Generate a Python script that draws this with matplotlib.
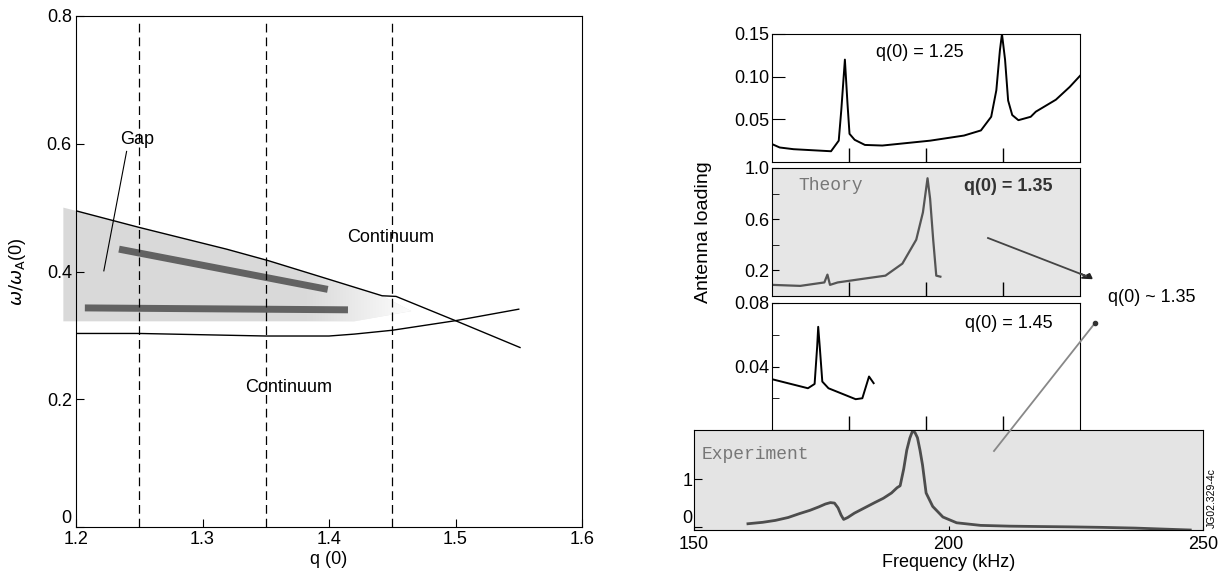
import numpy as np
import matplotlib
matplotlib.use("Agg")
import matplotlib.pyplot as plt
from matplotlib.patches import Polygon
from matplotlib.lines import Line2D

plt.rcParams['font.family'] = ['Liberation Sans', 'DejaVu Sans']
plt.rcParams['mathtext.fontset'] = 'dejavusans'

# ---------------- data: left panel (continuum / gap) ----------------
upper_q = [1.20, 1.25, 1.319, 1.352, 1.393, 1.442, 1.453, 1.50, 1.551]
upper_w = [0.495, 0.469, 0.435, 0.417, 0.392, 0.362, 0.361, 0.323, 0.281]
lower_q = [1.20, 1.25, 1.35, 1.40, 1.42, 1.45, 1.50, 1.55]
lower_w = [0.303, 0.303, 0.299, 0.299, 0.302, 0.308, 0.323, 0.341]
gap_q = [1.19, 1.20, 1.25, 1.319, 1.352, 1.393, 1.442, 1.465, 1.42, 1.19]
gap_w = [0.500, 0.495, 0.469, 0.435, 0.417, 0.392, 0.362, 0.338, 0.322, 0.322]
mode1_q = [1.234, 1.399]
mode1_w = [0.435, 0.372]
mode2_q = [1.207, 1.415]
mode2_w = [0.343, 0.340]
q_cases = [1.25, 1.35, 1.45]
left_xticks = [1.2, 1.3, 1.4, 1.5, 1.6]
left_yticks = [0, 0.2, 0.4, 0.6, 0.8]
left_yticklabels = ['0', '0.2', '0.4', '0.6', '0.8']

# ---------------- data: right panels (antenna loading) ----------------
p1_freq = [165.0, 166.5, 169.2, 176.5, 178.0, 178.5, 179.2, 179.7, 180.1, 181.1,
           183.1, 186.5, 195.8, 202.4, 205.7, 207.7, 208.7, 209.4, 209.8, 210.4,
           211.0, 211.8, 213.0, 215.4, 216.4, 220.3, 223.0, 225.0]
p1_val = [0.021, 0.017, 0.015, 0.0126, 0.025, 0.061, 0.120, 0.069, 0.033, 0.026,
          0.020, 0.0193, 0.025, 0.031, 0.037, 0.053, 0.084, 0.131, 0.150, 0.120,
          0.072, 0.055, 0.049, 0.053, 0.059, 0.073, 0.088, 0.101]

th_freq = [165.0, 170.5, 175.2, 175.8, 176.3, 177.8, 182.5, 187.1, 190.4, 193.1,
           194.4, 195.3, 195.8, 196.4, 197.0, 197.8]
th_val = [0.087, 0.079, 0.106, 0.167, 0.087, 0.106, 0.133, 0.159, 0.253, 0.44,
          0.653, 0.92, 0.76, 0.44, 0.159, 0.151]

p3_freq = [165.0, 172.0, 173.3, 173.8, 174.0, 174.3, 174.8, 176.0, 181.3, 182.6,
           183.9, 184.8]
p3_val = [0.032, 0.0263, 0.029, 0.0526, 0.065, 0.0526, 0.0305, 0.0263, 0.0194, 0.020,
          0.0337, 0.0295]

exp_freq = [160.6, 163.5, 166.0, 168.5, 170.7, 172.8, 174.5, 175.8, 176.8, 177.6,
            178.3, 178.9, 179.4, 180.2, 181.5, 183.5, 185.5, 187.2, 188.8, 189.9,
            190.5, 191.2, 191.8, 192.4, 192.9, 193.4, 193.9, 194.4, 194.9, 195.6,
            196.9, 198.9, 201.6, 206.3, 212.0, 218.0, 224.0, 230.0, 236.6, 242.0,
            247.5]
exp_val = [0.07, 0.10, 0.14, 0.20, 0.28, 0.35, 0.42, 0.48, 0.51, 0.50,
           0.40, 0.25, 0.16, 0.20, 0.29, 0.40, 0.51, 0.60, 0.71, 0.82,
           0.86, 1.21, 1.60, 1.85, 1.99, 1.97, 1.86, 1.60, 1.29, 0.71,
           0.43, 0.21, 0.09, 0.036, 0.02, 0.012, 0.005, -0.005, -0.02, -0.04,
           -0.06]

theory_xticks = [180, 195, 210]
exp_xticks = [150, 200, 250]

# ---------------- figure ----------------
W, H = 1228, 581
fig = plt.figure(figsize=(W / 100, H / 100), dpi=100)


def rect(x0, y0, x1, y1):
    return [x0 / W, 1 - y1 / H, (x1 - x0) / W, (y1 - y0) / H]


def fx(x):
    return x / W


def fy(y):
    return 1 - y / H


# ---------------- left panel ----------------
ax = fig.add_axes(rect(76, 16, 582, 527))
ax.set_xlim(1.2, 1.6)
ax.set_ylim(0, 0.8)

# shaded gap: solid part + fading tip
solid = Polygon(np.column_stack([gap_q, gap_w]), closed=True, facecolor='#d9d9d9',
                edgecolor='none', zorder=1, clip_on=False)
ax.add_patch(solid)
clip = Polygon(np.column_stack([gap_q, gap_w]), closed=True, transform=ax.transData)
qq = np.linspace(1.19, 1.47, 200)
alpha = np.clip((1.47 - qq) / 0.09, 0, 1)
img = np.ones((2, qq.size, 4))
img[..., :3] = 1.0
img[..., 3] = 1 - alpha  # white overlay fades the tip
im = ax.imshow(img, extent=[1.19, 1.47, 0.31, 0.51], origin='lower', aspect='auto',
               zorder=1.5, interpolation='bilinear')
im.set_clip_path(clip)
ax.set_aspect('auto')

ax.plot(upper_q, upper_w, color='k', lw=1.0, zorder=3)
ax.plot(lower_q, lower_w, color='k', lw=1.0, zorder=3)
ax.plot(mode1_q, mode1_w, color='#555555', lw=5, solid_capstyle='butt', zorder=2, alpha=0.9)
ax.plot(mode2_q, mode2_w, color='#555555', lw=5, solid_capstyle='butt', zorder=2, alpha=0.9)
for q in q_cases:
    ax.plot([q, q], [0, 0.79], color='k', lw=0.9, ls=(0, (7, 4)), zorder=3)

ax.text(1.248, 0.607, 'Gap', fontsize=13, ha='center', va='center')
ax.plot([1.240, 1.222], [0.588, 0.401], color='k', lw=0.8)
ax.text(1.449, 0.453, 'Continuum', fontsize=13, ha='center', va='center')
ax.text(1.368, 0.218, 'Continuum', fontsize=13, ha='center', va='center')

ax.set_xticks(left_xticks)
ax.set_xticklabels([f'{v:.1f}' for v in left_xticks])
ax.set_yticks(left_yticks)
ax.set_yticklabels(left_yticklabels)
ax.tick_params(direction='in', length=6, labelsize=13, pad=3)
ax.get_yticklabels()[0].set_va('bottom')
ax.set_xlabel('q (0)', fontsize=13, labelpad=2)
fig.text(fx(18), fy(272), r'$\omega/\omega_\mathrm{A}$(0)', rotation=90,
         fontsize=13, ha='center', va='center')

# ---------------- right panels ----------------
def theory_axes(r, ylim, yticks, ylabels, minor=None, bg='white'):
    a = fig.add_axes(rect(*r))
    a.set_xlim(165, 225)
    a.set_ylim(*ylim)
    a.set_facecolor(bg)
    a.set_xticks(theory_xticks)
    a.set_xticklabels([])
    a.set_yticks(yticks)
    a.set_yticklabels(ylabels)
    if minor is not None:
        a.set_yticks(minor, minor=True)
    a.tick_params(axis='x', direction='in', length=10, width=1)
    a.tick_params(axis='y', direction='in', length=9, labelsize=13, pad=2)
    a.tick_params(axis='y', which='minor', direction='in', length=5)
    a.tick_params(top=False, right=False)
    return a

a1 = theory_axes((772, 34, 1080, 162), (0, 0.15), [0.05, 0.10, 0.15],
                 ['0.05', '0.10', '0.15'])
a1.plot(p1_freq, p1_val, color='k', lw=1.4)
a1.text(193.8, 0.128, 'q(0) = 1.25', fontsize=13, ha='center', va='center')

a2 = theory_axes((772, 168, 1080, 296), (0, 1.0), [0.2, 0.6, 1.0],
                 ['0.2', '0.6', '1.0'], minor=[0.4, 0.8], bg='#e6e6e6')
a2.tick_params(axis='y', length=5)
a2.plot(th_freq, th_val, color='#555555', lw=1.6)
a2.text(176.5, 0.865, 'Theory', fontsize=13, ha='center', va='center',
        family=['Liberation Mono', 'DejaVu Sans Mono'], color='#777777')
a2.text(211.0, 0.853, 'q(0) = 1.35', fontsize=13, ha='center', va='center',
        color='#333333', fontweight='bold')

a3 = theory_axes((772, 303, 1080, 430), (0, 0.08), [0.04, 0.08],
                 ['0.04', '0.08'], minor=[0.02, 0.06])
a3.tick_params(axis='y', length=5)
a3.plot(p3_freq, p3_val, color='k', lw=1.4)
a3.text(211.2, 0.067, 'q(0) = 1.45', fontsize=13, ha='center', va='center')

a4 = fig.add_axes(rect(694, 430, 1203, 530))
a4.set_facecolor('#e4e4e4')
a4.set_xlim(150, 250)
a4.set_ylim(-0.06, 2.02)
a4.plot(exp_freq, exp_val, color='#4d4d4d', lw=2.0)
a4.set_xticks(exp_xticks)
a4.set_xticklabels([str(v) for v in exp_xticks])
a4.set_yticks([0, 1])
a4.set_yticklabels(['0', '1'])
a4.tick_params(axis='x', direction='in', length=3, labelsize=13, pad=4)
a4.tick_params(axis='y', direction='in', length=6, labelsize=13, pad=1)
a4.get_yticklabels()[0].set_va('bottom')
a4.text(151.4, 1.52, 'Experiment', fontsize=13, ha='left', va='center',
        family=['Liberation Mono', 'DejaVu Sans Mono'], color='#777777')
a4.set_xlabel('Frequency (kHz)', fontsize=13, labelpad=1)

fig.text(fx(704), fy(232), 'Antenna loading', rotation=90, fontsize=14,
         ha='center', va='center')
fig.text(fx(1152), fy(298), 'q(0) ~ 1.35', fontsize=13, ha='center', va='center')
fig.text(fx(1212), fy(498), 'JG02.329-4c', rotation=90, fontsize=7.5,
         ha='center', va='center')

# pointer lines
fig.add_artist(Line2D([fx(988), fx(1086)], [fy(238), fy(276)], color='#444444', lw=1.3,
                      transform=fig.transFigure))
fig.patches.append(matplotlib.patches.FancyArrow(
    fx(1080), fy(273.5), fx(12), fy(278.5) - fy(273.5), width=0.0005,
    head_width=0.01, head_length=0.007, length_includes_head=True,
    color='#222222', transform=fig.transFigure, figure=fig))
fig.add_artist(Line2D([fx(994), fx(1095)], [fy(451), fy(323)], color='#888888', lw=1.3,
                      transform=fig.transFigure))
fig.add_artist(Line2D([fx(1095)], [fy(323)], marker='o', markersize=3, color='#333333',
                      transform=fig.transFigure))

fig.savefig('out.png', dpi=100)
